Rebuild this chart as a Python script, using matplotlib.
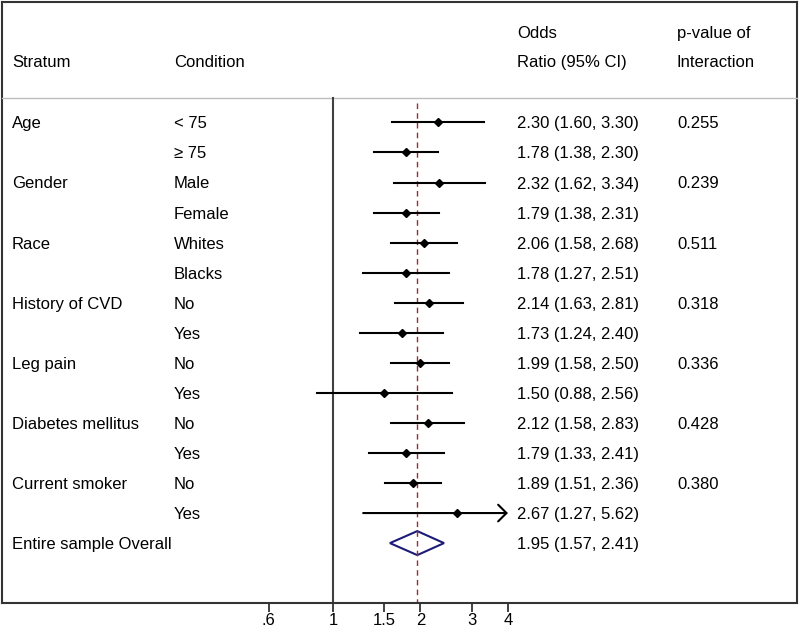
import numpy as np
import matplotlib
matplotlib.use("Agg")
import matplotlib.pyplot as plt
from matplotlib.patches import Polygon
from matplotlib.ticker import NullLocator

plt.rcParams["font.family"] = ["Liberation Sans", "DejaVu Sans"]
plt.rcParams["font.size"] = 12

# data
strata = ["Age", "", "Gender", "", "Race", "", "History of CVD", "",
          "Leg pain", "", "Diabetes mellitus", "", "Current smoker", ""]
conditions = ["< 75", "\u2265 75", "Male", "Female", "Whites", "Blacks",
              "No", "Yes", "No", "Yes", "No", "Yes", "No", "Yes"]
odds = [2.30, 1.78, 2.32, 1.79, 2.06, 1.78, 2.14, 1.73, 1.99, 1.50, 2.12, 1.79, 1.89, 2.67]
lower = [1.60, 1.38, 1.62, 1.38, 1.58, 1.27, 1.63, 1.24, 1.58, 0.88, 1.58, 1.33, 1.51, 1.27]
upper = [3.30, 2.30, 3.34, 2.31, 2.68, 2.51, 2.81, 2.40, 2.50, 2.56, 2.83, 2.41, 2.36, 5.62]
p_interaction = ["0.255", "", "0.239", "", "0.511", "", "0.318", "",
                 "0.336", "", "0.428", "", "0.380", ""]
overall_label = "Entire sample Overall"
overall_or, overall_lo, overall_hi = 1.95, 1.57, 2.41
xticks = [0.6, 1, 1.5, 2, 3, 4]
xtick_labels = [".6", "1", "1.5", "2", "3", "4"]

# layout (pixels)
W, H = 800, 633
x_one, scale = 333, 126.2   # pixel of OR = 1, pixels per ln unit
x_max = 4                   # CI clipped here with an arrow
axis_y, head_y = 603, 98
row0, row_step = 122.4, 30.05
col_stratum, col_cond, col_or, col_p = 12, 174, 517, 677
base = 6  # baseline offset from row centre


def px2val(p):
    return np.exp((p - x_one) / scale)


fig = plt.figure(figsize=(W / 100, H / 100), dpi=100)

ov = fig.add_axes([0, 0, 1, 1])
ov.set_xlim(0, W)
ov.set_ylim(H, 0)
ov.axis("off")

ax = fig.add_axes([0, 0, 1, 1])
ax.patch.set_visible(False)
ax.set_xscale("log")
ax.set_xlim(px2val(0), px2val(W))
ax.set_ylim(H, 0)
for s in ["left", "right", "top"]:
    ax.spines[s].set_visible(False)
ax.spines["bottom"].set_position(("data", axis_y))
ax.spines["bottom"].set_bounds(px2val(1.5), px2val(797))
ax.spines["bottom"].set_color("#333333")
ax.spines["bottom"].set_linewidth(1.5)
ax.set_yticks([])
ax.set_xticks(xticks, xtick_labels)
ax.xaxis.set_minor_locator(NullLocator())
ax.tick_params(axis="x", direction="out", length=6.5, width=1.3,
               color="#333333", pad=1, labelsize=12)

# frame
frame = dict(color="#333333", lw=1.5, solid_capstyle="projecting")
ov.plot([1.5, 1.5], [1.5, axis_y], **frame)
ov.plot([1.5, 797], [1.5, 1.5], **frame)
ov.plot([797, 797], [1.5, axis_y], **frame)
ov.plot([1.5, 797], [head_y, head_y], color="#bdbdbd", lw=1)

# headers
ov.text(col_stratum, 67, "Stratum")
ov.text(col_cond, 67, "Condition")
ov.text(col_or, 38, "Odds")
ov.text(col_or, 67, "Ratio (95% CI)")
ov.text(col_p, 38, "p-value of")
ov.text(col_p, 67, "Interaction")

# reference lines
ax.plot([1, 1], [head_y, axis_y], color="#404040", lw=1.5)
ax.plot([overall_or, overall_or], [103, axis_y], color="#9b2d30", lw=1,
        ls=(0, (4, 3)))

for i in range(len(odds)):
    y = row0 + row_step * i
    if upper[i] > x_max:
        ax.annotate("", xy=(x_max, y), xytext=(lower[i], y),
                    arrowprops=dict(arrowstyle="->,head_length=0.3,head_width=0.3",
                                    lw=1.5, color="black", mutation_scale=20,
                                    shrinkA=0, shrinkB=0))
    else:
        ax.plot([lower[i], upper[i]], [y, y], color="black", lw=1.5)
    ax.plot(odds[i], y, marker="D", ms=4.5, color="black")
    ov.text(col_stratum, y + base, strata[i])
    ov.text(col_cond, y + base, conditions[i])
    ov.text(col_or, y + base, f"{odds[i]:.2f} ({lower[i]:.2f}, {upper[i]:.2f})")
    ov.text(col_p, y + base, p_interaction[i])

# overall diamond
y = row0 + row_step * len(odds)
ax.add_patch(Polygon([(overall_lo, y), (overall_or, y - 12), (overall_hi, y),
                      (overall_or, y + 12)], closed=True, fill=False,
                     edgecolor="#1c1c78", lw=1.5))
ov.text(col_stratum, y + base, overall_label)
ov.text(col_or, y + base, f"{overall_or:.2f} ({overall_lo:.2f}, {overall_hi:.2f})")

fig.savefig("out.png", dpi=100, facecolor="white")
